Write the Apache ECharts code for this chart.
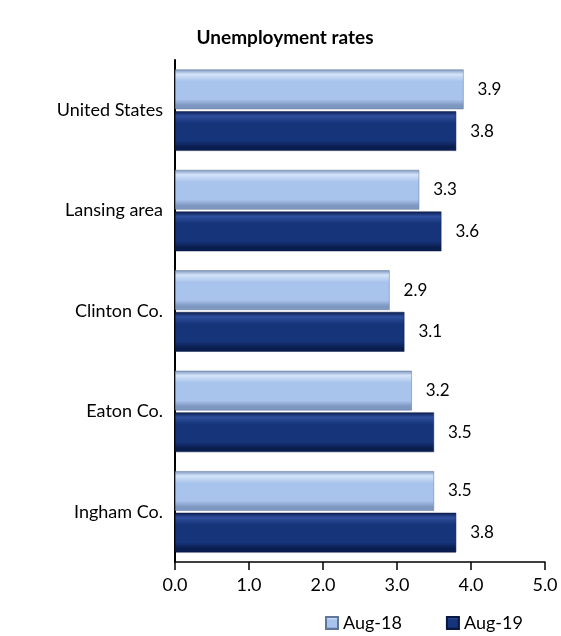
<!DOCTYPE html>
<html>
<head>
<meta charset="UTF-8">
<title>Unemployment rates</title>
<script src="https://cdn.jsdelivr.net/npm/echarts@6/dist/echarts.min.js"></script>
<style>
  html, body { margin: 0; padding: 0; background: #fff; }
  #main { width: 561px; height: 636px; }
</style>
</head>
<body>
<div id="main"></div>
<script>
var areas = ['United States', 'Lansing area', 'Clinton Co.', 'Eaton Co.', 'Ingham Co.'];
var aug18 = [3.9, 3.3, 2.9, 3.2, 3.5];
var aug19 = [3.8, 3.6, 3.1, 3.5, 3.8];
var seriesNames = ['Aug-18', 'Aug-19'];

var font = 'Lato, "Open Sans", sans-serif';

// bevel look: vertical gradient
function bevel(top, mid, bottom) {
    return new echarts.graphic.LinearGradient(0, 0, 0, 1, [
        {offset: 0, color: bottom},
        {offset: 0.12, color: top},
        {offset: 0.3, color: mid},
        {offset: 0.75, color: mid},
        {offset: 0.9, color: bottom},
        {offset: 1, color: bottom}
    ]);
}
var lightFill = bevel('#d4e3f9', '#a9c4ec', '#7d97c0');
var darkFill = bevel('#2f4f9e', '#163479', '#0a1d4f');

var chart = echarts.init(document.getElementById('main'));
var option = {
    animation: false,
    title: {
        text: 'Unemployment rates',
        left: 280, top: 23, textAlign: 'center',
        textStyle: {fontFamily: font, fontSize: 19, fontWeight: 'bold', color: '#000'}
    },
    legend: {
        data: seriesNames,
        left: 320, top: 609,
        itemWidth: 12, itemHeight: 12, itemGap: 44,
        icon: 'rect',
        textStyle: {fontFamily: font, fontSize: 18, color: '#000'}
    },
    grid: {left: 175, right: 16, top: 60, bottom: 74},
    xAxis: {
        type: 'value', min: 0, max: 5, interval: 1,
        splitLine: {show: false},
        axisLine: {show: true, lineStyle: {color: '#000', width: 1.5}},
        axisTick: {show: true, length: 8, lineStyle: {color: '#000', width: 1.5}},
        axisLabel: {fontFamily: font, fontSize: 18, color: '#000', margin: 14,
            formatter: function (v) { return v.toFixed(1); }}
    },
    yAxis: {
        type: 'category', data: areas, inverse: true,
        axisLine: {show: true, lineStyle: {color: '#000', width: 2}},
        axisTick: {show: false},
        axisLabel: {fontFamily: font, fontSize: 18, color: '#000', margin: 12}
    },
    series: [
        {
            name: seriesNames[0], type: 'bar', data: aug18,
            barCategoryGap: '19%', barGap: '5%',
            itemStyle: {color: lightFill, borderColor: '#5f7599', borderWidth: 0.5},
            label: {show: true, position: 'right', distance: 14, fontFamily: font, fontSize: 17, color: '#000',
                formatter: function (p) { return p.value.toFixed(1); }}
        },
        {
            name: seriesNames[1], type: 'bar', data: aug19,
            barCategoryGap: '19%', barGap: '5%',
            itemStyle: {color: darkFill, borderColor: '#081840', borderWidth: 0.5},
            label: {show: true, position: 'right', distance: 14, fontFamily: font, fontSize: 17, color: '#000',
                formatter: function (p) { return p.value.toFixed(1); }}
        }
    ]
};
chart.setOption(option);
</script>
</body>
</html>
